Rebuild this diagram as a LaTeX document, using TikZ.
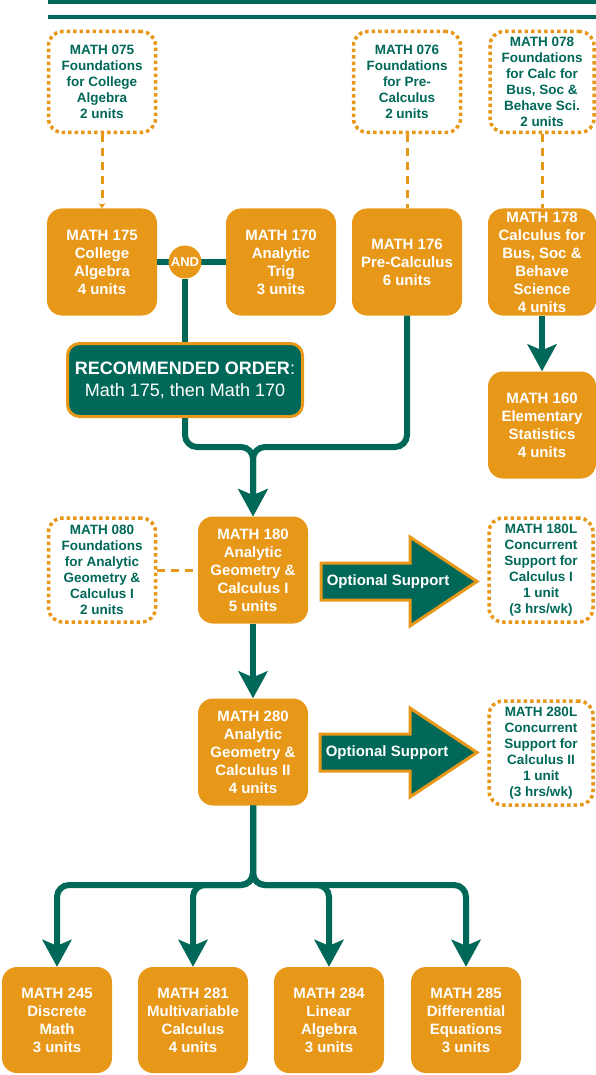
\documentclass[tikz,border=0pt]{standalone}
\usepackage{fontspec}
\setmainfont{Liberation Sans}
\usetikzlibrary{arrows.meta,calc}
\definecolor{cOr}{RGB}{232,152,24}
\definecolor{cGr}{RGB}{0,104,88}
\tikzset{
  course/.style={fill=cOr, rounded corners=15pt, text=white,
    font=\bfseries\fontsize{15}{18}\selectfont, align=center, inner sep=0pt,
    minimum width=110pt, minimum height=107pt},
  prep/.style={fill=white, draw=cOr, line width=3.5pt, dash pattern=on 3.5pt off 3pt,
    rounded corners=14pt, text=cGr, font=\bfseries\fontsize{13.5}{16}\selectfont,
    align=center, inner sep=0pt, minimum width=107pt, minimum height=101pt},
  gline/.style={draw=cGr, line width=6pt},
  garrow/.style={gline, -{Stealth[length=27pt,width=29pt,inset=6pt]}},
  dashline/.style={draw=cOr, line width=3pt, dash pattern=on 8pt off 6pt},
  optarrow/.style={fill=cGr, draw=cOr, line width=3pt, line join=miter},
  opttext/.style={text=white, font=\bfseries\fontsize{15}{18}\selectfont, inner sep=0pt}
}
\begin{document}
\begin{tikzpicture}[x=1pt, y=-1pt]
\useasboundingbox (0,0) rectangle (596,1075);
% top rules
\draw[cGr, line width=4pt] (48,2) -- (596,2);
\draw[cGr, line width=4pt] (48,17) -- (596,17);

% preparatory (dotted) courses
\node[prep] (d075) at (102,82) {MATH 075\\Foundations\\for College\\Algebra\\2 units};
\node[prep] (d076) at (407,82) {MATH 076\\Foundations\\for Pre-\\Calculus\\2 units};
\node[prep, minimum width=104pt] (d078) at (542,82) {MATH 078\\Foundations\\for Calc for\\Bus, Soc \&\\Behave Sci.\\2 units};
\node[prep, minimum height=104pt] (d080) at (102,570) {MATH 080\\Foundations\\for Analytic\\Geometry \&\\Calculus I\\2 units};
\node[prep, minimum width=104pt, minimum height=104pt] (d180L) at (541,570) {MATH 180L\\Concurrent\\Support for\\Calculus I\\1 unit\\(3 hrs/wk)};
\node[prep, minimum width=104pt, minimum height=104pt] (d280L) at (541,753) {MATH 280L\\Concurrent\\Support for\\Calculus II\\1 unit\\(3 hrs/wk)};

% courses
\node[course] (c175) at (102,262) {MATH 175\\College\\Algebra\\4 units};
\node[course] (c170) at (281,262) {MATH 170\\Analytic\\Trig\\3 units};
\node[course] (c176) at (407,262) {MATH 176\\Pre-Calculus\\6 units};
\node[course, minimum width=108pt] (c178) at (542,262) {MATH 178\\Calculus for\\Bus, Soc \&\\Behave\\Science\\4 units};
\node[course, minimum width=108pt] (c160) at (542,425) {MATH 160\\Elementary\\Statistics\\4 units};
\node[course] (c180) at (253,570) {MATH 180\\Analytic\\Geometry \&\\Calculus I\\5 units};
\node[course] (c280) at (253,752) {MATH 280\\Analytic\\Geometry \&\\Calculus II\\4 units};
\node[course, minimum height=106pt] (b245) at (57,1020) {MATH 245\\Discrete\\Math\\3 units};
\node[course, minimum height=106pt] (b281) at (193,1020) {MATH 281\\Multivariable\\Calculus\\4 units};
\node[course, minimum height=106pt] (b284) at (329,1020) {MATH 284\\Linear\\Algebra\\3 units};
\node[course, minimum height=106pt] (b285) at (466,1020) {MATH 285\\Differential\\Equations\\3 units};

% recommended order box
\node[fill=cGr, draw=cOr, line width=3pt, rounded corners=12pt, text=white,
  font=\fontsize{18}{22}\selectfont, align=center, inner sep=0pt,
  minimum width=235pt, minimum height=73pt] (rec) at (185,380)
  {\textbf{RECOMMENDED ORDER}:\\Math 175, then Math 170};

% dashed prerequisites
\draw[dashline, -{Stealth[length=5pt,width=7pt]}] (d075.south) -- (c175.north);
\draw[dashline] (d076.south) -- (c176.north);
\draw[dashline] (d078.south) -- (c178.north);
\draw[dashline] (d080.east) -- (c180.west);

% AND junction
\draw[gline] (c175.east) -- (c170.west);
\node[circle, fill=cOr, minimum size=33pt, inner sep=0pt, text=white,
  font=\bfseries\fontsize{13}{13}\selectfont] (and) at (185,262) {AND};
\draw[gline] (and.south) -- (rec.north);

% merge into MATH 180
\coordinate (j1) at (253,447);
\draw[garrow, rounded corners=12pt] (rec.south) |- (j1) -- (c180.north);
\draw[garrow, rounded corners=12pt] (c176.south) |- (j1) -- (c180.north);

\draw[garrow] (c178.south) -- (c160.north);
\draw[garrow] (c180.south) -- (c280.north);

% branch to upper-division courses
\coordinate (j2) at (253,885);
\foreach \t in {b245,b281,b284,b285}
  \draw[garrow, rounded corners=12pt] (c280.south) -- (j2) -| (\t.north);

% optional support arrows
\draw[optarrow] (321,563) -- (410,563) -- (410,537) -- (477,581.5) -- (410,626) -- (410,600) -- (321,600) -- cycle;
\node[opttext] (opt1) at (388,581.5) {Optional Support};
\draw[optarrow] (320,734) -- (410,734) -- (410,708) -- (477,752.5) -- (410,797) -- (410,771) -- (320,771) -- cycle;
\node[opttext] (opt2) at (387,752.5) {Optional Support};
\end{tikzpicture}
\end{document}
